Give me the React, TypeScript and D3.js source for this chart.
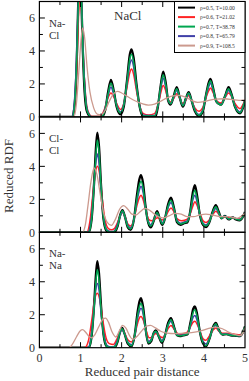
import React from "react";
import * as d3 from "d3";

type P = [number, number];

// ---- Panel 1: Na-Cl ----
const naclBlack: P[] = [[0,0],[0.8,0],[0.86,0.8],[0.91,3.5],[0.95,7.5],[0.98,9.5],[1.01,8],[1.05,4.5],[1.1,1.5],[1.16,0.3],[1.25,0],[1.52,0],[1.6,0.4],[1.67,1.5],[1.74,2.25],[1.81,1.55],[1.88,0.6],[1.97,0.15],[2.05,0.6],[2.13,2.2],[2.2,3.8],[2.24,4.1],[2.29,3.6],[2.36,2.0],[2.44,0.6],[2.53,0],[2.82,0],[2.88,0.6],[2.95,1.9],[3.01,2.75],[3.07,2.1],[3.13,1.0],[3.19,0.75],[3.26,1.2],[3.34,1.8],[3.41,1.2],[3.49,0.62],[3.56,1.1],[3.63,1.5],[3.7,1.0],[3.78,0.35],[3.88,0.05],[3.97,0.3],[4.05,1.3],[4.12,2.1],[4.16,2.3],[4.22,1.8],[4.3,0.95],[4.42,0.75],[4.52,1.3],[4.6,1.8],[4.67,1.4],[4.76,0.6],[4.88,0.22],[4.95,0.55],[5.0,1.0]];
const naclRed: P[] = [[0,0],[0.8,0],[0.86,0.8],[0.91,3.0],[0.95,6.0],[0.99,7.6],[1.03,6.2],[1.07,3.5],[1.12,1.4],[1.18,0.35],[1.28,0.02],[1.48,0.02],[1.58,0.45],[1.66,1.1],[1.74,1.45],[1.82,1.15],[1.9,0.7],[1.97,0.45],[2.05,0.8],[2.13,1.8],[2.2,2.7],[2.24,2.9],[2.29,2.6],[2.36,1.6],[2.44,0.65],[2.53,0.2],[2.65,0.12],[2.8,0.2],[2.88,0.7],[2.95,1.45],[3.01,1.9],[3.07,1.6],[3.13,1.05],[3.19,0.9],[3.26,1.1],[3.34,1.4],[3.41,1.15],[3.49,0.8],[3.56,1.0],[3.63,1.3],[3.7,1.0],[3.78,0.55],[3.88,0.35],[3.97,0.55],[4.05,1.15],[4.12,1.6],[4.16,1.75],[4.22,1.5],[4.3,1.0],[4.42,0.85],[4.52,1.2],[4.6,1.45],[4.67,1.25],[4.76,0.8],[4.88,0.5],[4.95,0.75],[5.0,1.0]];
const naclGreen: P[] = [[0,0],[0.8,0],[0.86,0.9],[0.91,3.6],[0.95,7.2],[0.985,9],[1.02,7.5],[1.06,4],[1.11,1.4],[1.17,0.3],[1.27,0],[1.5,0],[1.6,0.45],[1.67,1.4],[1.74,2.05],[1.81,1.5],[1.88,0.65],[1.97,0.25],[2.05,0.7],[2.13,2.1],[2.2,3.55],[2.24,3.8],[2.29,3.35],[2.36,1.9],[2.44,0.6],[2.53,0.05],[2.8,0.05],[2.88,0.65],[2.95,1.85],[3.01,2.55],[3.07,2.0],[3.13,1.05],[3.19,0.8],[3.26,1.2],[3.34,1.7],[3.41,1.2],[3.49,0.68],[3.56,1.1],[3.63,1.45],[3.7,1.0],[3.78,0.4],[3.88,0.1],[3.97,0.35],[4.05,1.3],[4.12,2.0],[4.16,2.2],[4.22,1.75],[4.3,0.95],[4.42,0.72],[4.52,1.3],[4.6,1.7],[4.67,1.35],[4.76,0.6],[4.88,0.25],[4.95,0.6],[5.0,1.0]];
const naclBlue: P[] = [[0,0],[0.79,0],[0.85,0.9],[0.9,3.4],[0.94,6.6],[0.985,8.2],[1.03,6.6],[1.07,3.6],[1.12,1.3],[1.18,0.3],[1.28,0],[1.5,0],[1.59,0.45],[1.67,1.3],[1.74,1.8],[1.81,1.35],[1.89,0.65],[1.97,0.3],[2.05,0.75],[2.13,2.0],[2.2,3.2],[2.24,3.45],[2.29,3.05],[2.36,1.8],[2.44,0.65],[2.53,0.1],[2.8,0.08],[2.88,0.65],[2.95,1.7],[3.01,2.35],[3.07,1.85],[3.13,1.05],[3.19,0.82],[3.26,1.15],[3.34,1.6],[3.41,1.2],[3.49,0.7],[3.56,1.05],[3.63,1.4],[3.7,1.0],[3.78,0.45],[3.88,0.15],[3.97,0.4],[4.05,1.25],[4.12,1.85],[4.16,2.05],[4.22,1.65],[4.3,0.95],[4.42,0.75],[4.52,1.25],[4.6,1.6],[4.67,1.3],[4.76,0.65],[4.88,0.3],[4.95,0.6],[5.0,1.0]];
const naclTan: P[] = [[0,0],[0.84,0],[0.9,0.8],[0.96,2.8],[1.01,4.6],[1.05,5.4],[1.1,4.8],[1.16,3.0],[1.23,1.5],[1.32,0.55],[1.42,0.15],[1.5,0.12],[1.6,0.4],[1.7,0.95],[1.8,1.4],[1.9,1.55],[2.0,1.45],[2.1,1.3],[2.2,1.15],[2.35,0.95],[2.5,0.8],[2.65,0.72],[2.8,0.78],[2.95,0.95],[3.1,1.15],[3.25,1.28],[3.4,1.3],[3.55,1.2],[3.7,1.0],[3.85,0.88],[4.0,0.92],[4.15,1.02],[4.3,1.08],[4.5,1.1],[4.7,1.05],[4.85,1.0],[5.0,1.02]];

// ---- Panel 2: Cl-Cl ----
const clclBlack: P[] = [[0,0],[1.2,0],[1.27,0.8],[1.33,3.0],[1.38,5.3],[1.41,6.05],[1.45,5.2],[1.5,2.8],[1.56,0.8],[1.63,0.1],[1.7,0],[1.82,0],[1.9,0.35],[1.96,1.0],[2.02,1.34],[2.08,0.95],[2.15,0.3],[2.22,0.15],[2.3,0.8],[2.37,2.2],[2.43,3.2],[2.47,3.47],[2.52,3.0],[2.58,1.6],[2.65,0.55],[2.71,0.3],[2.78,0.7],[2.86,1.28],[2.93,0.8],[2.99,0.45],[3.06,0.9],[3.13,1.7],[3.2,2.1],[3.27,1.5],[3.35,0.6],[3.43,0.45],[3.52,0.55],[3.6,0.6],[3.67,1.3],[3.73,2.4],[3.78,2.86],[3.83,2.3],[3.9,1.1],[3.98,0.45],[4.05,0.32],[4.13,0.6],[4.22,1.3],[4.29,1.64],[4.36,1.25],[4.43,0.85],[4.51,1.0],[4.6,0.78],[4.7,0.9],[4.78,0.78],[4.87,0.72],[4.95,0.95],[5.0,1.23]];
const clclRed: P[] = [[0,0],[1.15,0],[1.23,0.7],[1.3,2.3],[1.36,3.6],[1.41,4.0],[1.46,3.6],[1.52,2.2],[1.59,0.85],[1.67,0.25],[1.75,0.15],[1.83,0.25],[1.91,0.65],[1.97,1.05],[2.02,1.2],[2.08,0.95],[2.15,0.5],[2.22,0.38],[2.3,0.8],[2.37,1.6],[2.43,2.1],[2.47,2.25],[2.52,2.0],[2.59,1.3],[2.66,0.78],[2.73,0.7],[2.8,0.78],[2.87,0.88],[2.94,0.8],[3.0,0.75],[3.07,0.95],[3.14,1.3],[3.2,1.48],[3.27,1.25],[3.35,0.82],[3.45,0.7],[3.55,0.75],[3.62,0.85],[3.68,1.2],[3.74,1.65],[3.78,1.85],[3.84,1.6],[3.91,1.1],[3.98,0.7],[4.05,0.6],[4.13,0.75],[4.22,1.1],[4.29,1.28],[4.36,1.1],[4.45,0.9],[4.55,0.92],[4.65,0.85],[4.75,0.85],[4.87,0.8],[4.95,0.95],[5.0,1.18]];
const clclGreen: P[] = [[0,0],[1.2,0],[1.27,0.8],[1.33,2.9],[1.38,4.9],[1.41,5.6],[1.45,4.9],[1.5,2.7],[1.56,0.85],[1.63,0.15],[1.7,0.02],[1.8,0.02],[1.9,0.38],[1.96,0.98],[2.02,1.3],[2.08,0.95],[2.15,0.35],[2.22,0.2],[2.3,0.8],[2.37,2.0],[2.43,2.85],[2.47,3.1],[2.52,2.7],[2.58,1.5],[2.65,0.6],[2.71,0.38],[2.78,0.72],[2.86,1.2],[2.93,0.82],[2.99,0.5],[3.06,0.9],[3.13,1.6],[3.2,1.95],[3.27,1.45],[3.35,0.65],[3.43,0.5],[3.52,0.58],[3.6,0.65],[3.67,1.25],[3.73,2.15],[3.78,2.55],[3.83,2.1],[3.9,1.1],[3.98,0.5],[4.05,0.38],[4.13,0.62],[4.22,1.25],[4.29,1.55],[4.36,1.2],[4.43,0.85],[4.51,0.98],[4.6,0.8],[4.7,0.9],[4.78,0.8],[4.87,0.75],[4.95,0.95],[5.0,1.2]];
const clclBlue: P[] = [[0,0],[1.18,0],[1.26,0.8],[1.32,2.6],[1.37,4.2],[1.41,4.75],[1.45,4.2],[1.5,2.5],[1.57,0.8],[1.64,0.15],[1.72,0.05],[1.8,0.05],[1.89,0.42],[1.96,0.95],[2.02,1.25],[2.08,0.95],[2.15,0.42],[2.22,0.28],[2.3,0.8],[2.37,1.85],[2.43,2.55],[2.47,2.8],[2.52,2.45],[2.58,1.45],[2.65,0.65],[2.71,0.45],[2.78,0.75],[2.86,1.1],[2.93,0.85],[2.99,0.58],[3.06,0.9],[3.13,1.5],[3.2,1.8],[3.27,1.4],[3.35,0.72],[3.43,0.55],[3.52,0.62],[3.6,0.72],[3.67,1.2],[3.73,1.95],[3.78,2.25],[3.83,1.9],[3.9,1.1],[3.98,0.55],[4.05,0.45],[4.13,0.68],[4.22,1.2],[4.29,1.45],[4.36,1.15],[4.43,0.88],[4.51,0.97],[4.6,0.82],[4.7,0.9],[4.78,0.82],[4.87,0.78],[4.95,0.95],[5.0,1.2]];
const clclTan: P[] = [[0,0],[1.05,0],[1.12,0.5],[1.18,1.6],[1.25,3.0],[1.33,3.9],[1.4,3.5],[1.48,2.3],[1.56,1.2],[1.65,0.6],[1.75,0.42],[1.85,0.8],[1.95,1.4],[2.05,1.62],[2.15,1.4],[2.25,1.1],[2.35,1.05],[2.45,1.25],[2.57,1.45],[2.7,1.3],[2.85,1.0],[3.0,0.88],[3.15,1.0],[3.3,1.15],[3.45,1.1],[3.6,0.95],[3.75,0.95],[3.9,1.05],[4.05,1.1],[4.2,1.05],[4.4,0.95],[4.6,0.95],[4.8,0.85],[4.9,0.95],[5.0,1.15]];

// ---- Panel 3: Na-Na ----
const nanaBlack: P[] = [[0,0],[1.2,0],[1.27,0.7],[1.33,2.6],[1.38,4.6],[1.41,5.25],[1.45,4.5],[1.5,2.5],[1.56,0.8],[1.63,0.1],[1.7,0],[1.82,0],[1.9,0.35],[1.96,0.95],[2.01,1.2],[2.07,0.85],[2.15,0.25],[2.24,0.08],[2.32,0.8],[2.39,2.2],[2.44,2.85],[2.47,3.0],[2.52,2.5],[2.58,1.2],[2.65,0.25],[2.72,0.4],[2.78,0.9],[2.83,1.05],[2.9,0.7],[2.98,0.3],[3.06,0.8],[3.13,1.5],[3.2,1.8],[3.27,1.3],[3.35,0.75],[3.42,0.7],[3.5,0.75],[3.6,0.8],[3.68,1.6],[3.74,2.35],[3.78,2.5],[3.83,2.1],[3.9,1.0],[3.98,0.25],[4.05,0.08],[4.13,0.5],[4.22,1.25],[4.29,1.5],[4.36,1.1],[4.45,0.8],[4.55,0.82],[4.65,0.75],[4.78,0.72],[4.88,0.7],[4.95,0.95],[5.0,1.3]];
const nanaRed: P[] = [[0,0],[1.1,0],[1.2,0.5],[1.28,1.8],[1.35,3.0],[1.41,3.3],[1.47,2.9],[1.54,1.7],[1.62,0.6],[1.7,0.25],[1.8,0.2],[1.88,0.5],[1.95,0.9],[2.01,1.1],[2.07,0.9],[2.15,0.48],[2.24,0.35],[2.32,0.8],[2.39,1.5],[2.44,1.85],[2.47,1.9],[2.53,1.65],[2.6,1.0],[2.67,0.6],[2.74,0.62],[2.81,0.85],[2.87,0.85],[2.95,0.65],[3.0,0.62],[3.07,0.85],[3.14,1.2],[3.2,1.35],[3.27,1.15],[3.35,0.88],[3.42,0.82],[3.5,0.85],[3.6,0.95],[3.68,1.3],[3.74,1.55],[3.78,1.6],[3.84,1.4],[3.91,0.95],[3.98,0.55],[4.05,0.45],[4.13,0.7],[4.22,1.05],[4.29,1.2],[4.36,1.02],[4.45,0.88],[4.55,0.88],[4.65,0.85],[4.78,0.8],[4.88,0.78],[4.95,0.95],[5.0,1.25]];
const nanaGreen: P[] = [[0,0],[1.2,0],[1.27,0.7],[1.33,2.4],[1.38,4.2],[1.41,4.75],[1.45,4.1],[1.5,2.3],[1.56,0.8],[1.63,0.12],[1.7,0.02],[1.8,0.02],[1.9,0.38],[1.96,0.95],[2.01,1.15],[2.07,0.85],[2.15,0.3],[2.24,0.12],[2.32,0.8],[2.39,2.0],[2.44,2.55],[2.47,2.7],[2.52,2.3],[2.58,1.15],[2.65,0.3],[2.72,0.45],[2.78,0.88],[2.83,1.0],[2.9,0.7],[2.98,0.35],[3.06,0.78],[3.13,1.4],[3.2,1.7],[3.27,1.25],[3.35,0.75],[3.42,0.72],[3.5,0.76],[3.6,0.82],[3.68,1.5],[3.74,2.15],[3.78,2.3],[3.83,1.95],[3.9,1.0],[3.98,0.3],[4.05,0.12],[4.13,0.5],[4.22,1.2],[4.29,1.45],[4.36,1.08],[4.45,0.8],[4.55,0.82],[4.65,0.76],[4.78,0.73],[4.88,0.72],[4.95,0.95],[5.0,1.28]];
const nanaBlue: P[] = [[0,0],[1.18,0],[1.26,0.7],[1.32,2.2],[1.37,3.5],[1.41,3.9],[1.45,3.5],[1.5,2.1],[1.57,0.75],[1.64,0.15],[1.72,0.05],[1.8,0.05],[1.89,0.4],[1.96,0.9],[2.01,1.1],[2.07,0.85],[2.15,0.35],[2.24,0.18],[2.32,0.75],[2.39,1.8],[2.44,2.28],[2.47,2.4],[2.52,2.1],[2.58,1.1],[2.65,0.38],[2.72,0.5],[2.78,0.85],[2.83,0.95],[2.9,0.72],[2.98,0.42],[3.06,0.8],[3.13,1.35],[3.2,1.6],[3.27,1.22],[3.35,0.78],[3.42,0.75],[3.5,0.78],[3.6,0.85],[3.68,1.4],[3.74,1.85],[3.78,1.95],[3.83,1.7],[3.9,0.98],[3.98,0.38],[4.05,0.22],[4.13,0.55],[4.22,1.15],[4.29,1.35],[4.36,1.05],[4.45,0.82],[4.55,0.83],[4.65,0.78],[4.78,0.74],[4.88,0.73],[4.95,0.95],[5.0,1.25]];
const nanaTan: P[] = [[0,0],[0.72,0],[0.8,0.2],[0.9,0.65],[1.0,1.05],[1.05,1.1],[1.12,0.95],[1.2,0.7],[1.27,0.6],[1.35,0.8],[1.45,1.3],[1.55,1.75],[1.61,1.8],[1.68,1.55],[1.76,1.0],[1.86,0.65],[1.95,1.05],[2.02,1.35],[2.1,1.2],[2.2,0.7],[2.27,0.5],[2.38,0.7],[2.5,1.05],[2.6,1.3],[2.7,1.35],[2.82,1.2],[2.95,1.0],[3.1,0.88],[3.3,0.85],[3.5,0.88],[3.7,0.92],[3.9,1.0],[4.1,1.15],[4.28,1.25],[4.45,1.15],[4.6,0.95],[4.75,0.8],[4.88,0.73],[4.95,0.9],[5.0,1.2]];

const legendLabels = ["ρ=0.5, T=10.00", "ρ=0.6, T=21.02", "ρ=0.7, T=38.78", "ρ=0.8, T=65.79", "ρ=0.9, T=108.5"];
const seriesColors = ["#000000", "#ff2424", "#00a650", "#4040a8", "#cc9a8e"];
const panelLabels = [["Na-", "Cl"], ["Cl-", "Cl"], ["Na-", "Na"]];
const panelData: P[][][] = [
  [naclBlack, naclRed, naclGreen, naclBlue, naclTan],
  [clclBlack, clclRed, clclGreen, clclBlue, clclTan],
  [nanaBlack, nanaRed, nanaGreen, nanaBlue, nanaTan],
];
const xTickLabels = [0, 1, 2, 3, 4, 5];
const yTickLabels = [0, 2, 4, 6];

const W = 249, H = 381;
const left = 39.4, right = 245;
const top0 = 1.5, panelH = 115.4;
const FONT = "'Liberation Serif', 'Times New Roman', serif";

export default function App() {
  const x = d3.scaleLinear().domain([0, 5]).range([left, right]);
  const drawOrder = [0, 1, 3, 2, 4];
  const widths = [2.3, 1.5, 1.5, 1.5, 1.3];
  const xMinor = d3.range(0.5, 5, 0.5);
  const yAll = d3.range(1, 7, 1);

  return (
    <svg width={W} height={H} style={{ position: "absolute", left: 0, top: 0, background: "#fff" }}
      fontFamily={FONT}>
      <rect x={0} y={0} width={W} height={H} fill="#fff" />
      <defs>
        {panelData.map((_, i) => (
          <clipPath id={`clip${i}`} key={i}>
            <rect x={left} y={top0 + i * panelH} width={right - left} height={panelH} />
          </clipPath>
        ))}
      </defs>
      {panelData.map((series, i) => {
        const y0 = top0 + i * panelH;
        const y = d3.scaleLinear().domain([0, 7]).range([y0 + panelH, y0]);
        const line = d3.line<P>().x((d) => x(d[0])).y((d) => y(d[1])).curve(d3.curveMonotoneX);
        return (
          <g key={i}>
            <g clipPath={`url(#clip${i})`}>
              {drawOrder.map((k) => (
                <path key={k} d={line(series[k]) || ""} fill="none" stroke={seriesColors[k]}
                  strokeWidth={widths[k]} strokeLinejoin="round" />
              ))}
            </g>
            <rect x={left} y={y0} width={right - left} height={panelH} fill="none" stroke="#000" strokeWidth={1.2} />
            {xMinor.map((v) => {
              const major = Math.abs(v - Math.round(v)) < 1e-6;
              const len = major ? 5.5 : 3.5;
              return (
                <g key={v} stroke="#000" strokeWidth={1}>
                  <line x1={x(v)} x2={x(v)} y1={y0 + panelH} y2={y0 + panelH - len} />
                  <line x1={x(v)} x2={x(v)} y1={y0} y2={y0 + len} />
                </g>
              );
            })}
            {yAll.map((v) => {
              const len = v % 2 === 0 ? 5.5 : 3.5;
              return (
                <g key={v} stroke="#000" strokeWidth={1}>
                  <line x1={left} x2={left + len} y1={y(v)} y2={y(v)} />
                  <line x1={right} x2={right - len} y1={y(v)} y2={y(v)} />
                </g>
              );
            })}
            {yTickLabels.map((v) => (
              <text key={v} x={35} y={y(v)} dy="0.35em" textAnchor="end" fontSize={12} fill="#333">{v}</text>
            ))}
            <text x={49} y={y0 + 25} fontSize={11} fill="#333">{panelLabels[i][0]}</text>
            <text x={49} y={y0 + 37} fontSize={11} fill="#333">{panelLabels[i][1]}</text>
          </g>
        );
      })}
      <text x={114} y={19.5} fontSize={13} fill="#333">NaCl</text>
      <rect x={174.5} y={1.5} width={right - 174.5} height={51} fill="#fff" stroke="#000" strokeWidth={1} />
      {legendLabels.map((lab, k) => {
        const ly = 7.6 + k * 9.5;
        return (
          <g key={k}>
            <line x1={178} x2={195} y1={ly} y2={ly} stroke={seriesColors[k]} strokeWidth={2} />
            <text x={200} y={ly} dy="0.35em" fontSize={5.6} fill="#333">{lab}</text>
          </g>
        );
      })}
      {xTickLabels.map((v) => (
        <text key={v} x={x(v)} y={362} textAnchor="middle" fontSize={12} fill="#333">{v}</text>
      ))}
      <text x={(left + right) / 2} y={376} textAnchor="middle" fontSize={13} fill="#333">Reduced pair distance</text>
      <text transform={`translate(13,176) rotate(-90)`} textAnchor="middle" fontSize={13} fill="#333">Reduced RDF</text>
    </svg>
  );
}
